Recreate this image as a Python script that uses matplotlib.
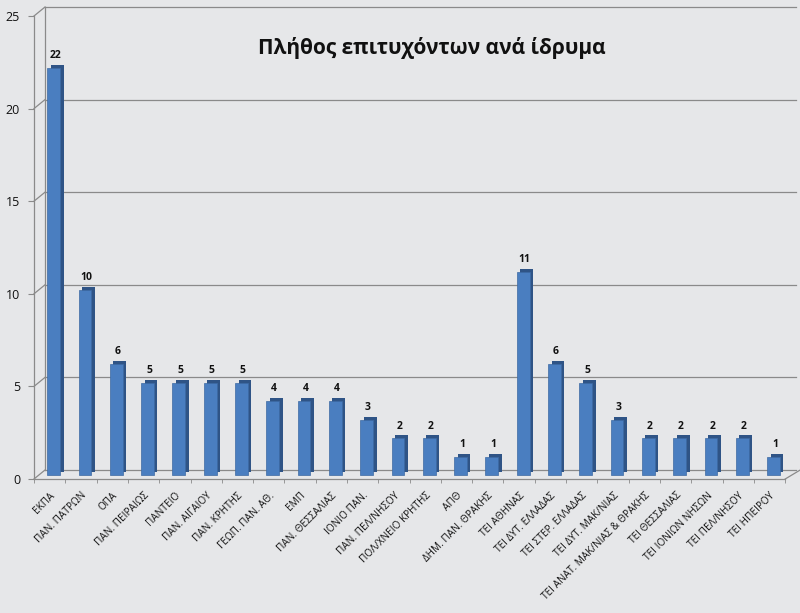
import matplotlib.pyplot as plt
import matplotlib.transforms as mtransforms
from matplotlib.lines import Line2D
import numpy as np

plt.rcParams['font.family'] = ['Open Sans', 'DejaVu Sans']

# δεδομένα
idrymata = ['ΕΚΠΑ', 'ΠΑΝ. ΠΑΤΡΩΝ', 'ΟΠΑ', 'ΠΑΝ. ΠΕΙΡΑΙΩΣ', 'ΠΑΝΤΕΙΟ',
            'ΠΑΝ. ΑΙΓΑΙΟΥ', 'ΠΑΝ. ΚΡΗΤΗΣ', 'ΓΕΩΠ. ΠΑΝ. ΑΘ.', 'ΕΜΠ',
            'ΠΑΝ. ΘΕΣΣΑΛΙΑΣ', 'ΙΟΝΙΟ ΠΑΝ.', 'ΠΑΝ. ΠΕΛ/ΝΗΣΟΥ',
            'ΠΟΛ/ΧΝΕΙΟ ΚΡΗΤΗΣ', 'ΑΠΘ', 'ΔΗΜ. ΠΑΝ. ΘΡΑΚΗΣ', 'ΤΕΙ ΑΘΗΝΑΣ',
            'ΤΕΙ ΔΥΤ. ΕΛΛΑΔΑΣ', 'ΤΕΙ ΣΤΕΡ. ΕΛΛΑΔΑΣ', 'ΤΕΙ ΔΥΤ. ΜΑΚ/ΝΙΑΣ',
            'ΤΕΙ ΑΝΑΤ. ΜΑΚ/ΝΙΑΣ & ΘΡΑΚΗΣ', 'ΤΕΙ ΘΕΣΣΑΛΙΑΣ',
            'ΤΕΙ ΙΟΝΙΩΝ ΝΗΣΩΝ', 'ΤΕΙ ΠΕΛ/ΝΗΣΟΥ', 'ΤΕΙ ΗΠΕΙΡΟΥ']
epityxontes = [22, 10, 6, 5, 5, 5, 5, 4, 4, 4, 3, 2, 2, 1, 1,
               11, 6, 5, 3, 2, 2, 2, 2, 1]
y_ticks = [0, 5, 10, 15, 20, 25]

DX, DY = 11, 9  # βάθος 3Δ σε pixels

fig = plt.figure(figsize=(8, 6.13), dpi=100, facecolor='#e6e7e9')
ax = fig.add_axes([0.0425, 0.2186, 0.939, 0.7553])
ax.set_facecolor('none')

x = np.arange(len(idrymata))
ax.set_xlim(-0.5, len(idrymata) - 0.5)
ax.set_ylim(0, 25)

# τοίχος πίσω: γραμμές πλέγματος
back = mtransforms.offset_copy(ax.get_yaxis_transform(), fig=fig,
                               x=DX, y=DY, units='dots')
grid_c = '#8a8a8a'
for v in y_ticks:
    ax.plot([0, 1], [v, v], color=grid_c, lw=0.9, transform=back,
            clip_on=False, zorder=0)
    p0 = ax.get_yaxis_transform().transform((0, v))
    fig.add_artist(Line2D([p0[0], p0[0] + DX], [p0[1], p0[1] + DY],
                          color=grid_c, lw=0.9,
                          transform=mtransforms.IdentityTransform()))
ax.plot([0, 0], [0, 25], color=grid_c, lw=0.9, transform=back,
        clip_on=False, zorder=0)
# δεξιά διαγώνιος δαπέδου
p1 = ax.transAxes.transform((1, 0))
fig.add_artist(Line2D([p1[0], p1[0] + DX + 4], [p1[1], p1[1] + DY],
                      color=grid_c, lw=0.9,
                      transform=mtransforms.IdentityTransform()))

# στήλες στο μέσο του βάθους, με σκιά (πλευρά/κορυφή)
mid = mtransforms.offset_copy(ax.transData, fig=fig, x=4, y=3.5,
                              units='dots')
side = mtransforms.offset_copy(ax.transData, fig=fig, x=7.5, y=6.5,
                               units='dots')
ax.bar(x, epityxontes, width=0.41, color='#2f5486', transform=side,
       zorder=2)
ax.bar(x, epityxontes, width=0.41, color='#4a7ec0', edgecolor='#3d6aa3',
       lw=0.5, transform=mid, zorder=3)

for xi, v in zip(x, epityxontes):
    ax.annotate(str(v), (xi, v), xycoords=mid, xytext=(1, 5),
                textcoords='offset points', ha='center', va='bottom',
                fontsize=7.5, fontweight='bold', color='#111111')

for s in ['top', 'right']:
    ax.spines[s].set_visible(False)
for s in ['left', 'bottom']:
    ax.spines[s].set_color(grid_c)
    ax.spines[s].set_linewidth(0.9)

ax.set_yticks(y_ticks)
ax.tick_params(axis='y', length=4, color=grid_c, labelsize=9,
               labelcolor='#111111', pad=6)
ax.set_xticks(x)
ax.set_xticklabels(idrymata, rotation=45, ha='right',
                   rotation_mode='anchor', fontsize=7.2, color='#111111')
ax.tick_params(axis='x', length=0, pad=8)
ax.set_xticks(np.arange(len(idrymata) + 1) - 0.5, minor=True)
ax.tick_params(axis='x', which='minor', length=3, color=grid_c)

fig.text(0.54, 0.922, 'Πλήθος επιτυχόντων ανά ίδρυμα', ha='center',
         va='center', fontsize=15, fontweight='bold', color='#111111')

fig.savefig('out.png', dpi=100, facecolor=fig.get_facecolor())
